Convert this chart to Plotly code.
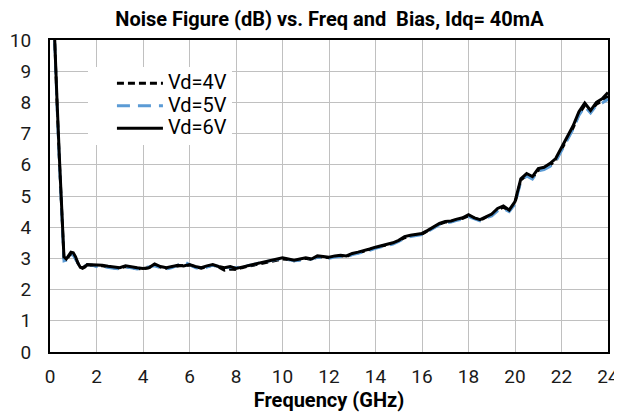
import plotly.graph_objects as go

# frequency points (GHz)
freq = [0.1, 0.2, 0.3, 0.4, 0.5, 0.6, 0.7, 0.8, 0.9, 1.0, 1.1, 1.2, 1.3, 1.4, 1.5, 1.6, 1.8, 2.0,
        2.25, 2.5, 2.75, 3.0, 3.25, 3.5, 3.75, 4.0, 4.25, 4.5, 4.75, 5.0, 5.25, 5.5, 5.75, 6.0,
        6.25, 6.5, 6.75, 7.0, 7.25, 7.5, 7.75, 8.0, 8.25, 8.5, 8.75, 9.0, 9.25, 9.5, 9.75, 10.0,
        10.25, 10.5, 10.75, 11.0, 11.25, 11.5, 11.75, 12.0, 12.25, 12.5, 12.75, 13.0, 13.25, 13.5, 13.75, 14.0,
        14.25, 14.5, 14.75, 15.0, 15.25, 15.5, 15.75, 16.0, 16.25, 16.5, 16.75, 17.0, 17.25, 17.5, 17.75, 18.0,
        18.25, 18.5, 18.75, 19.0, 19.25, 19.5, 19.75, 20.0, 20.25, 20.5, 20.75, 21.0, 21.25, 21.5, 21.75, 22.0,
        22.25, 22.5, 22.75, 23.0, 23.25, 23.5, 23.75, 24.0]

nf_4v = [12.0, 9.7, 8.0, 6.2, 4.3, 3.00, 2.96, 3.05, 3.15, 3.12, 3.00, 2.84, 2.72, 2.70, 2.74, 2.80, 2.78, 2.76,
         2.76, 2.72, 2.70, 2.68, 2.74, 2.70, 2.68, 2.66, 2.70, 2.78, 2.72, 2.68, 2.72, 2.76, 2.78, 2.78,
         2.72, 2.68, 2.74, 2.78, 2.72, 2.62, 2.66, 2.64, 2.70, 2.74, 2.78, 2.84, 2.86, 2.90, 2.94, 2.98,
         2.96, 2.92, 2.96, 3.00, 2.96, 3.04, 3.04, 3.02, 3.06, 3.08, 3.06, 3.14, 3.18, 3.22, 3.28, 3.34,
         3.38, 3.42, 3.48, 3.56, 3.66, 3.72, 3.74, 3.78, 3.88, 3.98, 4.10, 4.16, 4.18, 4.24, 4.28, 4.36,
         4.28, 4.22, 4.32, 4.40, 4.56, 4.64, 4.52, 4.78, 5.50, 5.68, 5.58, 5.82, 5.88, 5.98, 6.14, 6.48,
         6.82, 7.18, 7.62, 7.90, 7.70, 7.94, 8.04, 8.20]

nf_5v = [12.0, 9.6, 7.9, 6.1, 4.2, 2.92, 2.94, 3.02, 3.12, 3.10, 2.98, 2.82, 2.72, 2.70, 2.76, 2.80, 2.78, 2.74,
         2.74, 2.70, 2.68, 2.66, 2.72, 2.70, 2.66, 2.70, 2.72, 2.76, 2.70, 2.66, 2.70, 2.78, 2.90, 2.80,
         2.70, 2.66, 2.72, 2.78, 2.74, 2.70, 2.72, 2.70, 2.74, 2.76, 2.80, 2.86, 2.90, 2.94, 2.96, 3.00,
         2.96, 2.92, 2.94, 3.00, 2.98, 3.04, 3.02, 3.00, 3.04, 3.06, 3.04, 3.12, 3.16, 3.20, 3.26, 3.32,
         3.36, 3.40, 3.46, 3.54, 3.64, 3.70, 3.72, 3.76, 3.86, 3.96, 4.08, 4.14, 4.16, 4.22, 4.26, 4.34,
         4.26, 4.20, 4.30, 4.36, 4.52, 4.60, 4.50, 4.74, 5.46, 5.64, 5.54, 5.80, 5.84, 5.94, 6.10, 6.44,
         6.78, 7.14, 7.58, 7.86, 7.66, 7.90, 7.98, 8.10]

nf_6v = [12.0, 9.8, 8.1, 6.3, 4.4, 3.05, 2.98, 3.10, 3.20, 3.18, 3.05, 2.85, 2.72, 2.68, 2.72, 2.80, 2.80, 2.78,
         2.78, 2.75, 2.72, 2.70, 2.76, 2.72, 2.70, 2.68, 2.70, 2.82, 2.74, 2.70, 2.74, 2.78, 2.76, 2.80,
         2.74, 2.70, 2.76, 2.80, 2.74, 2.70, 2.74, 2.68, 2.72, 2.76, 2.80, 2.86, 2.88, 2.92, 2.96, 3.02,
         2.98, 2.94, 2.98, 3.02, 2.98, 3.08, 3.06, 3.04, 3.08, 3.10, 3.08, 3.16, 3.20, 3.24, 3.30, 3.36,
         3.40, 3.44, 3.50, 3.58, 3.70, 3.74, 3.76, 3.80, 3.90, 4.02, 4.12, 4.18, 4.20, 4.26, 4.30, 4.40,
         4.30, 4.24, 4.34, 4.42, 4.60, 4.68, 4.55, 4.82, 5.55, 5.72, 5.62, 5.88, 5.92, 6.04, 6.20, 6.55,
         6.90, 7.25, 7.70, 7.98, 7.74, 8.00, 8.12, 8.32]

x_ticks = list(range(0, 25, 2))
y_ticks = list(range(0, 11))


def legend_name(s):
    # bigger text than the legend font so the rows stay close together
    return "<span style='font-size:20px'>" + s + "</span>"


fig = go.Figure()

fig.add_trace(go.Scatter(x=freq, y=nf_4v, mode="lines", name=legend_name("Vd=4V"),
                         line=dict(color="black", width=2.8, dash="7px,4px")))
fig.add_trace(go.Scatter(x=freq, y=nf_5v, mode="lines", name=legend_name("Vd=5V"),
                         line=dict(color="#5b9bd5", width=2.8, dash="13px,8px")))
fig.add_trace(go.Scatter(x=freq, y=nf_6v, mode="lines", name=legend_name("Vd=6V"),
                         line=dict(color="black", width=3)))

# page body adds an 8px offset, so the figure is 8px smaller on each side
fig.update_layout(
    width=614, height=405,
    margin=dict(l=42, r=14, t=32, b=61, autoexpand=False),
    paper_bgcolor="white", plot_bgcolor="white",
    font=dict(family="Roboto", size=19, color="#1a1a1a"),
    title=dict(text="<b>Noise Figure (dB) vs. Freq and  Bias, Idq= 40mA</b>",
               x=0.5236, xref="container", xanchor="center",
               y=0.9736, yref="container", yanchor="middle",
               font=dict(size=20, color="black")),
    legend=dict(x=0.068, y=0.9135, xanchor="left", yanchor="top",
                bgcolor="white", font=dict(size=15, color="black"),
                tracegroupgap=0, itemwidth=46, indentation=24),
    showlegend=True,
)

fig.update_xaxes(range=[0, 24], tickvals=x_ticks, showgrid=True, gridcolor="#c0c0c0", gridwidth=1,
                 showline=True, linecolor="black", linewidth=2, mirror=True, ticks="",
                 ticklabelstandoff=6, zeroline=False, automargin=False,
                 title=dict(text="<b>Frequency (GHz)</b>", font=dict(size=20, color="black"), standoff=2))
fig.update_yaxes(range=[0, 10], tickvals=y_ticks, showgrid=True, gridcolor="#c0c0c0", gridwidth=1,
                 showline=True, linecolor="black", linewidth=2, mirror=True, ticks="",
                 ticklabelstandoff=13, zeroline=False, automargin=False)

fig.write_html("out.html")
